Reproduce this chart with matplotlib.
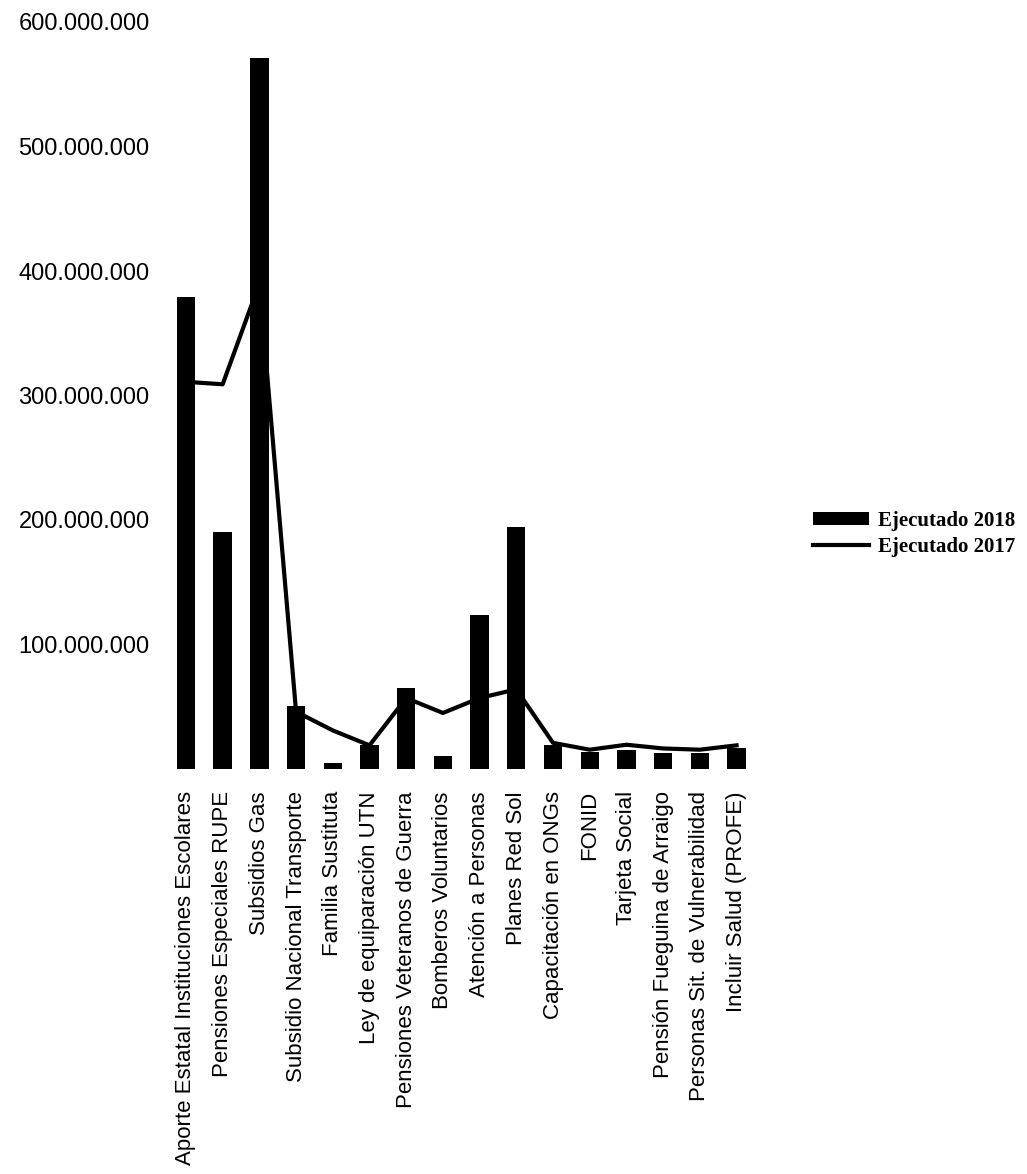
import matplotlib
matplotlib.use("Agg")
import matplotlib.pyplot as plt
from matplotlib.ticker import FuncFormatter

categories = [
    "Aporte Estatal Instituciones Escolares",
    "Pensiones Especiales RUPE",
    "Subsidios Gas",
    "Subsidio Nacional Transporte",
    "Familia Sustituta",
    "Ley de equiparación UTN",
    "Pensiones Veteranos de Guerra",
    "Bomberos Voluntarios",
    "Atención a Personas",
    "Planes Red Sol",
    "Capacitación en ONGs",
    "FONID",
    "Tarjeta Social",
    "Pensión Fueguina de Arraigo",
    "Personas Sit. de Vulnerabilidad",
    "Incluir Salud (PROFE)",
]
ejecutado_2018 = [379e6, 190e6, 571e6, 51e6, 5e6, 19e6, 65e6, 10.5e6, 124e6, 194e6,
                  19e6, 14e6, 15e6, 13e6, 13e6, 16.5e6]
ejecutado_2017 = [311e6, 309e6, 390e6, 46e6, 31e6, 19e6, 57e6, 45e6, 57e6, 64e6,
                  21e6, 15.5e6, 19.5e6, 16.5e6, 15.5e6, 19e6]
yticks = [100e6, 200e6, 300e6, 400e6, 500e6, 600e6]

W, H = 1027, 1174
fig = plt.figure(figsize=(W / 100, H / 100), dpi=100)
left, right = 167.6 / W, 754.9 / W
bottom, top = 1 - 769 / H, 1 - 22 / H
ax = fig.add_axes([left, bottom, right - left, top - bottom])

x = list(range(len(categories)))
bars = ax.bar(x, ejecutado_2018, width=0.5, color="black", label="Ejecutado 2018", zorder=2)
line, = ax.plot(x, ejecutado_2017, color="black", linewidth=3, label="Ejecutado 2017", zorder=3)

ax.set_xlim(-0.5, len(categories) - 0.5)
ax.set_ylim(0, 600e6)
ax.set_yticks(yticks)
ax.yaxis.set_major_formatter(FuncFormatter(lambda v, p: f"{int(round(v)):,}".replace(",", ".")))
ax.set_xticks(x)
ax.set_xticklabels(categories, rotation=90, ha="center", va="top")

for s in ax.spines.values():
    s.set_visible(False)
ax.tick_params(axis="both", length=0)
ax.tick_params(axis="y", pad=13, labelsize=17)
ax.tick_params(axis="x", pad=16, labelsize=16)
for lab in ax.get_xticklabels() + ax.get_yticklabels():
    lab.set_family("Liberation Sans")

leg = fig.legend([bars, line], ["Ejecutado 2018", "Ejecutado 2017"],
                 loc="center left", bbox_to_anchor=(813 / W, 1 - 534 / H),
                 frameon=False, borderpad=0, borderaxespad=0,
                 handlelength=2.7, handleheight=0.6, handletextpad=0.4,
                 labelspacing=0.3,
                 prop={"family": "Liberation Serif", "weight": "bold", "size": 15})

fig.savefig("out.png", dpi=100)
